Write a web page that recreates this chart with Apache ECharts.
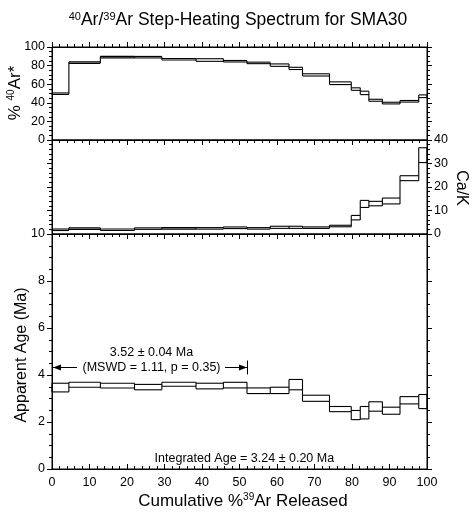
<!DOCTYPE html>
<html><head><meta charset="utf-8">
<script src="https://cdn.jsdelivr.net/npm/echarts@6/dist/echarts.min.js"></script>
<style>html,body{margin:0;padding:0;background:#fff}#c{width:474px;height:515px}</style>
</head><body><div id="c"></div>
<script>
// Cumulative %39Ar step boundaries
const stepBounds = [0, 4.5, 12.9, 22.0, 29.3, 38.4, 45.7, 52.0, 58.2, 63.2, 66.8, 74.0, 79.8, 82.2, 84.5, 88.1, 92.8, 97.8, 100];
// % 40Ar* (radiogenic) per step, low / high
const radLow  = [49.4, 82.8, 88.8, 88.7, 86.5, 84.6, 84.3, 82.4, 79.2, 75.8, 68.8, 59.6, 53.4, 48.8, 41.7, 38.8, 40.8, 45.6];
const radHigh = [50.2, 83.5, 89.5, 89.4, 87.2, 87.4, 85.1, 83.4, 81.8, 78.2, 71.2, 62.5, 56.1, 52.5, 43.8, 40.6, 42.5, 48.5];
// Ca/K per step, low / high
const caKLow  = [1.6, 2.0, 1.6, 2.0, 2.2, 2.2, 2.3, 2.2, 2.4, 2.4, 2.4, 3.1, 6.0, 11.3, 12.0, 12.8, 22.7, 30.4];
const caKHigh = [2.0, 2.6, 2.0, 2.6, 2.6, 2.6, 3.0, 2.6, 3.3, 3.3, 3.0, 3.7, 7.9, 14.3, 13.9, 15.3, 24.8, 36.7];
// Apparent age (Ma) per step, low / high
const ageLow  = [3.28, 3.48, 3.45, 3.37, 3.52, 3.41, 3.45, 3.21, 3.21, 3.37, 2.88, 2.44, 2.10, 2.13, 2.46, 2.33, 2.77, 2.57];
const ageHigh = [3.65, 3.69, 3.65, 3.60, 3.69, 3.65, 3.69, 3.45, 3.48, 3.81, 3.14, 2.66, 2.49, 2.66, 2.86, 2.63, 3.08, 3.17];
// Annotation texts
const titleText = '{s|40}Ar/{s|39}Ar Step-Heating Spectrum for SMA30';
const plateauAgeText = '3.52 ± 0.04 Ma';
const plateauStatsText = '(MSWD = 1.11, p = 0.35)';
const integratedText = 'Integrated Age = 3.24 ± 0.20 Ma';
const plateauRange = [0, 52.0];

const FONT = 'Liberation Sans, Arial, Helvetica, sans-serif';

function buildSteps(lo, hi) {
  const out = [];
  for (let i = 0; i < lo.length; i++) {
    const pl = i > 0 ? lo[i - 1] : lo[i];
    const ph = i > 0 ? hi[i - 1] : hi[i];
    out.push([stepBounds[i], stepBounds[i + 1], lo[i], hi[i], pl, ph, i === lo.length - 1 ? 1 : 0]);
  }
  return out;
}

function renderBox(params, api) {
  const x0 = api.value(0), x1 = api.value(1), lo = api.value(2), hi = api.value(3);
  const pl = api.value(4), ph = api.value(5), last = api.value(6);
  const a = api.coord([x0, hi]);
  const b = api.coord([x1, lo]);
  let yT = a[1], yB = b[1];
  if (yB - yT < 1.5) { const m = (yT + yB) / 2; yT = m - 0.75; yB = m + 0.75; }
  const vTop = api.coord([x0, Math.max(hi, ph)])[1];
  const vBot = api.coord([x0, Math.min(lo, pl)])[1];
  const st = { stroke: '#000', lineWidth: 1.1, fill: 'none' };
  const children = [
    { type: 'line', shape: { x1: a[0], y1: yT, x2: b[0], y2: yT }, style: st },
    { type: 'line', shape: { x1: a[0], y1: yB, x2: b[0], y2: yB }, style: st },
    { type: 'line', shape: { x1: a[0], y1: Math.min(vTop, yT), x2: a[0], y2: Math.max(vBot, yB) }, style: st }
  ];
  if (last) children.push({ type: 'line', shape: { x1: b[0], y1: yT, x2: b[0], y2: yB }, style: st });
  return { type: 'group', children };
}

const lineStyle = { color: '#000', width: 1 };
function xAx(grid, pos, inside, labels) {
  return {
    type: 'value', gridIndex: grid, position: pos, min: 0, max: 100, interval: 10,
    axisLine: { show: true, onZero: false, lineStyle },
    axisTick: { show: true, inside: inside, length: 5, lineStyle },
    minorTick: { show: true, splitNumber: 5, length: 3, lineStyle },
    axisLabel: { show: labels, color: '#000', fontSize: 12.5, fontFamily: FONT, margin: 7 },
    splitLine: { show: false }
  };
}
function yAx(grid, pos, min, max, interval, minorSplit, labels) {
  return {
    type: 'value', gridIndex: grid, position: pos, min, max, interval,
    axisLine: { show: true, onZero: false, lineStyle },
    axisTick: { show: true, inside: false, length: 5, lineStyle },
    minorTick: { show: true, splitNumber: minorSplit, length: 3, lineStyle },
    axisLabel: { show: labels, color: '#000', fontSize: 12.5, fontFamily: FONT, margin: 7 },
    splitLine: { show: false }
  };
}

const chart = echarts.init(document.getElementById('c'), null, { renderer: 'canvas' });
const gridBase = { left: 52, width: 375, show: true, borderColor: '#000', borderWidth: 1, backgroundColor: 'transparent' };
const option = {
  animation: false,
  backgroundColor: '#fff',
  grid: [
    Object.assign({ top: 47, height: 93 }, gridBase),
    Object.assign({ top: 140, height: 94 }, gridBase),
    Object.assign({ top: 234, height: 235 }, gridBase)
  ],
  xAxis: [
    xAx(0, 'top', false, false),
    xAx(0, 'bottom', false, false),
    xAx(1, 'bottom', false, false),
    xAx(2, 'bottom', true, true)
  ],
  yAxis: [
    yAx(0, 'left', 0, 100, 20, 4, true),
    yAx(0, 'right', 0, 100, 20, 4, false),
    yAx(1, 'left', 0, 40, 10, 5, false),
    yAx(1, 'right', 0, 40, 10, 5, true),
    yAx(2, 'left', 0, 10, 2, 4, true),
    yAx(2, 'right', 0, 10, 2, 4, false)
  ],
  series: [
    { type: 'custom', xAxisIndex: 1, yAxisIndex: 0, renderItem: renderBox, data: buildSteps(radLow, radHigh), encode: { x: [0, 1], y: [2, 3] }, silent: true },
    { type: 'custom', xAxisIndex: 2, yAxisIndex: 3, renderItem: renderBox, data: buildSteps(caKLow, caKHigh), encode: { x: [0, 1], y: [2, 3] }, silent: true },
    { type: 'custom', xAxisIndex: 3, yAxisIndex: 4, renderItem: renderBox, data: buildSteps(ageLow, ageHigh), encode: { x: [0, 1], y: [2, 3] }, silent: true }
  ]
};
chart.setOption(option);

// Annotations positioned through the chart's own scales
const cv = (x, y) => chart.convertToPixel({ xAxisIndex: 3, yAxisIndex: 4 }, [x, y]);
const pL = cv(plateauRange[0], 4.33);
const pR = cv(plateauRange[1], 4.33);
const pMid = cv((plateauRange[0] + plateauRange[1]) / 2, 4.33);
const pTop = cv((plateauRange[0] + plateauRange[1]) / 2, 4.97);
const pInt = cv(51.3, 0.45);
const ay = Math.round(pL[1]) + 0.5;
const textStyleBase = { fill: '#000', fontFamily: FONT };

chart.setOption({
  graphic: [
    { type: 'text', x: 238, y: 20, style: Object.assign({ text: titleText, fontSize: 17.5, align: 'center', verticalAlign: 'middle',
      rich: { s: { fontSize: 11, verticalAlign: 'top', lineHeight: 11, fontFamily: FONT } } }, textStyleBase) },
    { type: 'text', x: 15, y: 93, rotation: Math.PI / 2, style: Object.assign({ text: '% {s|40}Ar*', fontSize: 17, align: 'center', verticalAlign: 'middle',
      rich: { s: { fontSize: 10, verticalAlign: 'top', lineHeight: 10, fontFamily: FONT } } }, textStyleBase) },
    { type: 'text', x: 461, y: 188, rotation: -Math.PI / 2, style: Object.assign({ text: 'Ca/K', fontSize: 16, align: 'center', verticalAlign: 'middle' }, textStyleBase) },
    { type: 'text', x: 22, y: 355, rotation: Math.PI / 2, style: Object.assign({ text: 'Apparent Age (Ma)', fontSize: 16, align: 'center', verticalAlign: 'middle' }, textStyleBase) },
    { type: 'text', x: 243, y: 501, style: Object.assign({ text: 'Cumulative %{s|39}Ar Released', fontSize: 17, align: 'center', verticalAlign: 'middle',
      rich: { s: { fontSize: 10, verticalAlign: 'top', lineHeight: 10, fontFamily: FONT } } }, textStyleBase) },
    { type: 'text', x: pTop[0] + 2, y: pTop[1], style: Object.assign({ text: plateauAgeText, fontSize: 12.5, align: 'center', verticalAlign: 'middle' }, textStyleBase) },
    { type: 'text', x: pMid[0] + 2, y: pMid[1], style: Object.assign({ text: plateauStatsText, fontSize: 12.5, align: 'center', verticalAlign: 'middle' }, textStyleBase) },
    { type: 'line', shape: { x1: pL[0] + 1, y1: ay, x2: pL[0] + 25, y2: ay }, style: { stroke: '#000', lineWidth: 1 } },
    { type: 'polygon', shape: { points: [[pL[0] + 1, ay], [pL[0] + 9, ay - 3], [pL[0] + 9, ay + 3]] }, style: { fill: '#000' } },
    { type: 'line', shape: { x1: pR[0] - 22, y1: ay, x2: pR[0], y2: ay }, style: { stroke: '#000', lineWidth: 1 } },
    { type: 'polygon', shape: { points: [[pR[0], ay], [pR[0] - 8, ay - 3], [pR[0] - 8, ay + 3]] }, style: { fill: '#000' } },
    { type: 'line', shape: { x1: Math.round(pR[0]) + 0.5, y1: ay - 7, x2: Math.round(pR[0]) + 0.5, y2: ay + 7 }, style: { stroke: '#000', lineWidth: 1 } },
    { type: 'text', x: pInt[0], y: pInt[1], style: Object.assign({ text: integratedText, fontSize: 12.5, align: 'center', verticalAlign: 'middle' }, textStyleBase) }
  ]
});
</script>
</body></html>
